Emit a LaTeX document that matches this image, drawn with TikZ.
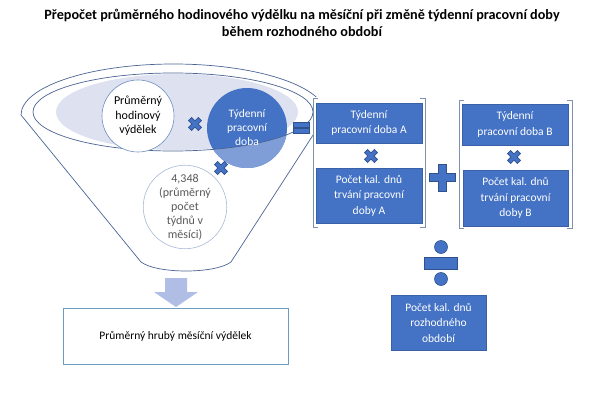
\documentclass[tikz,border=0pt]{standalone}
\usepackage{fontspec}
\setmainfont{Carlito}
\definecolor{mainblue}{HTML}{4472C4}
\definecolor{darkblue}{HTML}{2F528F}
\definecolor{lightpart}{HTML}{7F9DD6}
\definecolor{funnelline}{HTML}{4A6594}
\definecolor{lavender}{HTML}{DDE1F0}
\definecolor{circleline}{HTML}{6F8FBF}
\definecolor{graycircle}{HTML}{A9B9D6}
\definecolor{bracketcol}{HTML}{8090AC}
\definecolor{arrowcol}{HTML}{B0BEE6}
\definecolor{resultline}{HTML}{6A9CC0}
\definecolor{graytext}{HTML}{595959}
\begin{document}
\begin{tikzpicture}[x=1pt,y=-1pt,
  fline/.style={draw=funnelline,line width=0.7pt},
  bluebox/.style={rectangle,fill=mainblue,draw=mainblue!85!black,line width=0.4pt,text=white,align=center,inner sep=0pt,font=\fontsize{11.5}{15.5}\selectfont},
  bracketline/.style={draw=bracketcol,line width=0.8pt},
  symbol/.style={fill=mainblue,draw=darkblue,line width=0.6pt},
  mulsign/.pic={\filldraw[symbol,rotate=45] (2.2,7)--(2.2,2.2)--(7,2.2)--(7,-2.2)--(2.2,-2.2)--(2.2,-7)--(-2.2,-7)--(-2.2,-2.2)--(-7,-2.2)--(-7,2.2)--(-2.2,2.2)--(-2.2,7)--cycle;}
]
\useasboundingbox (0,0) rectangle (601,401);
\fill[white] (0,0) rectangle (601,401);

% title
\node[font=\bfseries\fontsize{14.2}{17.5}\selectfont,align=center] (title) at (302,23)
  {Přepočet průměrného hodinového výdělku na měsíční při změně týdenní pracovní doby\\během rozhodného období};

% funnel
\coordinate (fl) at (21,115);
\coordinate (fr) at (326,115);
\coordinate (bl) at (141,262);
\coordinate (br) at (231,262);
\filldraw[fline,fill=white] (fl) arc[start angle=180,end angle=0,x radius=152.5pt,y radius=51pt] -- (br)
  .. controls (215,274) and (157,274) .. (bl) -- cycle;
\fill[lavender] (177,112) ellipse[x radius=121pt,y radius=38pt];
\draw[fline] (173,112) ellipse[x radius=140pt,y radius=39pt];

% circles
\node[circle,draw=circleline,fill=white,line width=0.6pt,minimum size=72pt,inner sep=0pt,align=center,font=\fontsize{12}{14.5}\selectfont] (hod) at (138,116) {Průměrný\\hodinový\\výdělek};
\node[circle,fill=mainblue,minimum size=80pt,inner sep=0pt] (tyd) at (247,128) {};
\begin{scope}
  \clip (247,128) circle (40pt);
  \fill[lightpart,even odd rule] (200,80) rectangle (300,180) (173,112) ellipse[x radius=140pt,y radius=39pt];
  \draw[fline] (173,112) ellipse[x radius=140pt,y radius=39pt];
\end{scope}
\node[text=white,align=center,font=\fontsize{11.5}{14}\selectfont] (tydtext) at (tyd) {Týdenní\\pracovní\\doba};
\node[circle,draw=graycircle,fill=white,line width=0.6pt,minimum size=82pt,inner sep=0pt,align=center,text=graytext,font=\fontsize{12}{14}\selectfont] (kon) at (185,207) {4,348\\(průměrný\\počet\\týdnů v\\měsíci)};

% operators in funnel
\pic at (195,124) {mulsign};
\pic at (221,168) {mulsign};
\filldraw[symbol] (293,122.5) rectangle (309,127);
\filldraw[symbol] (293,128.5) rectangle (309,133);

% group A
\fill[white] (313,97) rectangle (425,228);
\draw[bracketline] (318,98) -- (313,98) -- (313,227) -- (318,227);
\draw[bracketline] (420,98) -- (425,98) -- (425,227) -- (420,227);
\node[bluebox,minimum width=106pt,minimum height=40pt] (ta) at (369,123) {Týdenní\\pracovní doba A};
\pic at (371,156) {mulsign};
\node[bluebox,minimum width=106pt,minimum height=55pt] (pa) at (369,195.5) {Počet kal. dnů\\trvání pracovní\\doby A};

% plus
\filldraw[symbol] (438,164)--(446,164)--(446,173.5)--(455,173.5)--(455,181.5)--(446,181.5)--(446,191)--(438,191)--(438,181.5)--(429,181.5)--(429,173.5)--(438,173.5)--cycle;

% group B
\fill[white] (459,99) rectangle (572,229);
\draw[bracketline] (464,100) -- (459,100) -- (459,228) -- (464,228);
\draw[bracketline] (567,100) -- (572,100) -- (572,228) -- (567,228);
\node[bluebox,minimum width=106pt,minimum height=41pt] (tb) at (515,124.5) {Týdenní\\pracovní doba B};
\pic at (514,157) {mulsign};
\node[bluebox,minimum width=105pt,minimum height=56pt] (pb) at (515.5,198) {Počet kal. dnů\\trvání pracovní\\doby B};

% division
\filldraw[symbol] (441,247) circle (6.5pt);
\filldraw[symbol] (424,257) rectangle (457,269);
\filldraw[symbol] (441,279) circle (6.5pt);
\node[bluebox,minimum width=95pt,minimum height=55pt] (roz) at (438.5,322.5) {Počet kal. dnů\\rozhodného\\období};

% down arrow
\fill[arrowcol] (165,278) -- (187,278) -- (187,292) -- (198,292) -- (176,307) -- (154,292) -- (165,292) -- cycle;

% result
\node[rectangle,draw=resultline,fill=white,line width=0.7pt,minimum width=225pt,minimum height=56pt,font=\fontsize{11.5}{14}\selectfont] (res) at (175.5,336) {Průměrný hrubý měsíční výdělek};
\end{tikzpicture}
\end{document}
